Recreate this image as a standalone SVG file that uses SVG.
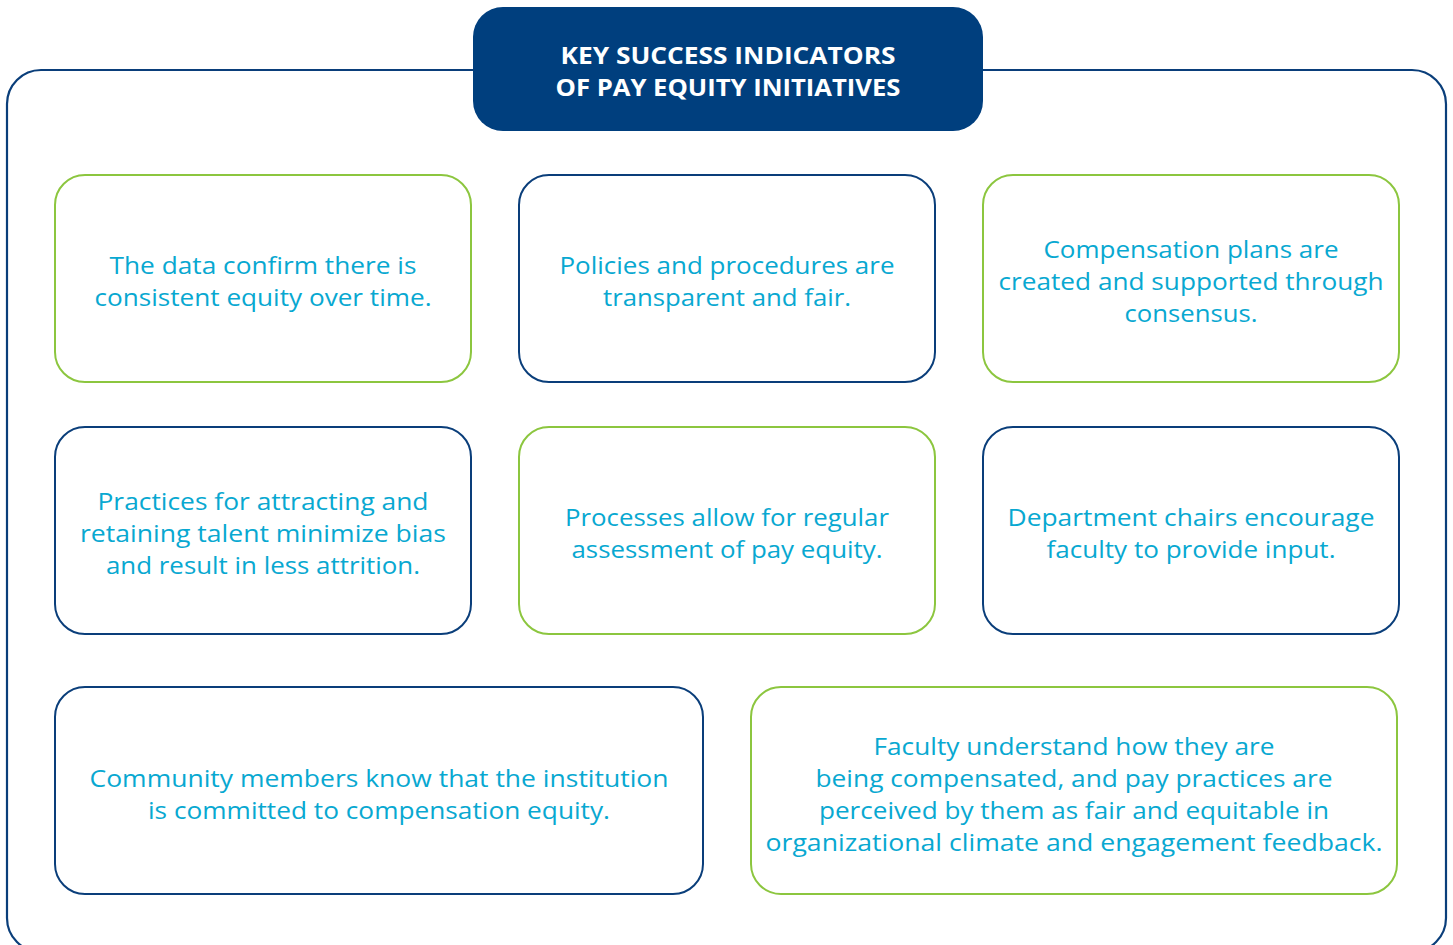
<svg xmlns="http://www.w3.org/2000/svg" width="1453" height="945" viewBox="0 0 1453 945">
  <style>
    .frame { fill: #ffffff; stroke: #0a3e7a; stroke-width: 2.2; }
    .box { fill: #ffffff; stroke-width: 2; }
    .green { stroke: #8cc63f; }
    .navy { stroke: #0a3e7a; }
    .label { font-family: "Open Sans", "Noto Sans", sans-serif; font-size: 23px; fill: #08a8d1; text-anchor: middle; }
    .title { font-family: "Open Sans", "Noto Sans", sans-serif; font-size: 22.5px; font-weight: 700; fill: #ffffff; text-anchor: middle; }
  </style>
  <rect width="1453" height="945" fill="#ffffff"/>

  <!-- outer frame -->
  <rect id="frame" class="frame" x="7" y="70" width="1439" height="882" rx="34"/>

  <!-- heading -->
  <g id="heading">
    <rect x="473" y="7" width="510" height="124" rx="30" fill="#003f7e"/>
    <text class="title" x="728" y="64" textLength="335" lengthAdjust="spacingAndGlyphs">KEY SUCCESS INDICATORS</text>
    <text class="title" x="728" y="96" textLength="345" lengthAdjust="spacingAndGlyphs">OF PAY EQUITY INITIATIVES</text>
  </g>

  <g id="data-equity">
    <rect class="box green" x="55" y="175" width="416" height="207" rx="30"/>
    <text class="label" x="263" y="274" textLength="307" lengthAdjust="spacingAndGlyphs">The data confirm there is</text>
    <text class="label" x="263" y="306" textLength="337" lengthAdjust="spacingAndGlyphs">consistent equity over time.</text>
  </g>

  <g id="policies">
    <rect class="box navy" x="519" y="175" width="416" height="207" rx="30"/>
    <text class="label" x="727" y="274" textLength="335" lengthAdjust="spacingAndGlyphs">Policies and procedures are</text>
    <text class="label" x="727" y="306" textLength="248" lengthAdjust="spacingAndGlyphs">transparent and fair.</text>
  </g>

  <g id="compensation-plans">
    <rect class="box green" x="983" y="175" width="416" height="207" rx="30"/>
    <text class="label" x="1191" y="258" textLength="295" lengthAdjust="spacingAndGlyphs">Compensation plans are</text>
    <text class="label" x="1191" y="290" textLength="385" lengthAdjust="spacingAndGlyphs">created and supported through</text>
    <text class="label" x="1191" y="322" textLength="133" lengthAdjust="spacingAndGlyphs">consensus.</text>
  </g>

  <g id="talent-practices">
    <rect class="box navy" x="55" y="427" width="416" height="207" rx="30"/>
    <text class="label" x="263" y="510" textLength="331" lengthAdjust="spacingAndGlyphs">Practices for attracting and</text>
    <text class="label" x="263" y="542" textLength="366" lengthAdjust="spacingAndGlyphs">retaining talent minimize bias</text>
    <text class="label" x="263" y="574" textLength="314" lengthAdjust="spacingAndGlyphs">and result in less attrition.</text>
  </g>

  <g id="assessment">
    <rect class="box green" x="519" y="427" width="416" height="207" rx="30"/>
    <text class="label" x="727" y="526" textLength="324" lengthAdjust="spacingAndGlyphs">Processes allow for regular</text>
    <text class="label" x="727" y="558" textLength="311" lengthAdjust="spacingAndGlyphs">assessment of pay equity.</text>
  </g>

  <g id="department-chairs">
    <rect class="box navy" x="983" y="427" width="416" height="207" rx="30"/>
    <text class="label" x="1191" y="526" textLength="367" lengthAdjust="spacingAndGlyphs">Department chairs encourage</text>
    <text class="label" x="1191" y="558" textLength="289" lengthAdjust="spacingAndGlyphs">faculty to provide input.</text>
  </g>

  <g id="community">
    <rect class="box navy" x="55" y="687" width="648" height="207" rx="30"/>
    <text class="label" x="379" y="787" textLength="579" lengthAdjust="spacingAndGlyphs">Community members know that the institution</text>
    <text class="label" x="379" y="819" textLength="462" lengthAdjust="spacingAndGlyphs">is committed to compensation equity.</text>
  </g>

  <g id="faculty-understanding">
    <rect class="box green" x="751" y="687" width="646" height="207" rx="30"/>
    <text class="label" x="1074" y="755" textLength="401" lengthAdjust="spacingAndGlyphs">Faculty understand how they are</text>
    <text class="label" x="1074" y="787" textLength="517" lengthAdjust="spacingAndGlyphs">being compensated, and pay practices are</text>
    <text class="label" x="1074" y="819" textLength="510" lengthAdjust="spacingAndGlyphs">perceived by them as fair and equitable in</text>
    <text class="label" x="1074" y="851" textLength="617" lengthAdjust="spacingAndGlyphs">organizational climate and engagement feedback.</text>
  </g>

  <!-- no connectors in this layout -->
  <g id="connectors"/>
</svg>
